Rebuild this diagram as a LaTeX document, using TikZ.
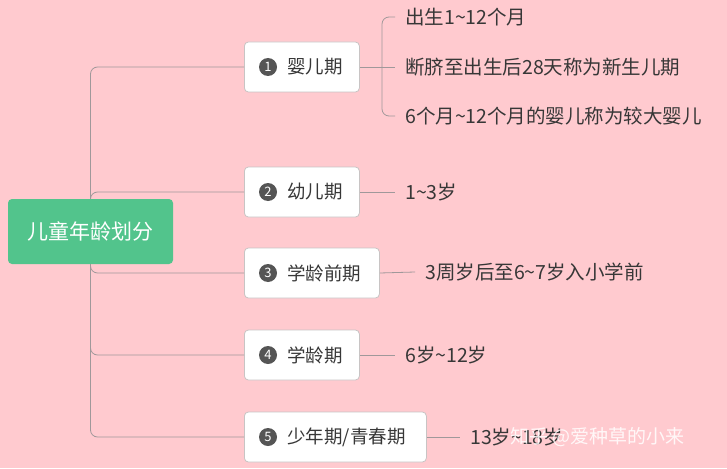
\documentclass[tikz,border=0pt]{standalone}
\usepackage{fontspec}
\setmainfont{Noto Sans CJK SC}
\usetikzlibrary{calc,positioning}
\definecolor{pinkbg}{RGB}{255,202,207}
\definecolor{rootgreen}{RGB}{82,196,140}
\definecolor{linegray}{RGB}{160,152,154}
\definecolor{boxgray}{RGB}{200,196,196}
\definecolor{textgray}{RGB}{55,55,55}
\definecolor{numgray}{RGB}{85,85,85}

\begin{document}
\begin{tikzpicture}[x=1pt,y=-1pt,font=\fontsize{19.5}{22}\selectfont]

\tikzset{rootnode/.style={fill=rootgreen,text=white,rounded corners=4pt,minimum width=165pt,minimum height=65pt,inner sep=0pt,font=\fontsize{21}{23}\selectfont},
topicnode/.style={fill=white,draw=boxgray,line width=0.8pt,rounded corners=4pt,minimum height=50pt,inner xsep=16pt,inner ysep=0pt,text=textgray,anchor=west,align=left,font=\fontsize{18.5}{20}\selectfont},
numnode/.style={circle,fill=numgray,text=white,inner sep=0pt,minimum size=18pt,font=\fontsize{13}{13}\selectfont},
leafnode/.style={anchor=west,inner xsep=10pt,inner ysep=2pt,text=textgray},
link/.style={draw=linegray,line width=0.8pt,rounded corners=7pt}}

% Background
\fill[pinkbg] (0,0) rectangle (727,468);
\useasboundingbox (0,0) rectangle (727,468);

% Root
\node[rootnode] (root) at (90.5,231.5) {儿童年龄划分};

% Topics
\node[topicnode,text width=83pt] (b1) at (244,67) {\hspace*{27pt}婴儿期};
\node[topicnode,text width=83pt] (b2) at (244,192) {\hspace*{27pt}幼儿期};
\node[topicnode,text width=103pt] (b3) at (244,273) {\hspace*{27pt}学龄前期};
\node[topicnode,text width=83pt] (b4) at (244,355) {\hspace*{27pt}学龄期};
\node[topicnode,text width=150pt] (b5) at (244,437) {\hspace*{27pt}少年期/青春期};
\foreach \i in {1,2,3,4,5} \node[numnode] (n\i) at ($(b\i.west)+(24,0)$) {\i};

% Trunk
\draw[link] (root.north) |- (b1.west);
\draw[link] (root.north) |- (b2.west);
\draw[link] (root.south) |- (b3.west);
\draw[link] (root.south) |- (b4.west);
\draw[link] (root.south) |- (b5.west);

% Leaves
\coordinate (fork1) at (382,67);
\node[leafnode] (l11) at (395,17) {出生1\textasciitilde12个月};
\node[leafnode] (l12) at (395,67) {断脐至出生后28天称为新生儿期};
\node[leafnode] (l13) at (395,116) {6个月\textasciitilde12个月的婴儿称为较大婴儿};
\node[leafnode] (l2) at (395,192) {1\textasciitilde3岁};
\node[leafnode] (l3) at (415,272) {3周岁后至6\textasciitilde7岁入小学前};
\node[leafnode] (l4) at (395,355) {6岁\textasciitilde12岁};
\node[leafnode] (l5) at (460,437) {13岁\textasciitilde18岁};

% Leaf links
\draw[link] (b1.east) -- (fork1);
\draw[link] (fork1) |- (l11.west);
\draw[link] (fork1) -- (l12.west);
\draw[link] (fork1) |- (l13.west);
\foreach \i in {2,3,4,5} \draw[link] (b\i.east) -- (l\i.west);

% Watermark
\node[anchor=west,text=white,opacity=0.85,inner sep=0pt,font=\fontsize{19}{21}\selectfont] (mark) at (510,437) {知乎 @爱种草的小来};

\end{tikzpicture}
\end{document}
